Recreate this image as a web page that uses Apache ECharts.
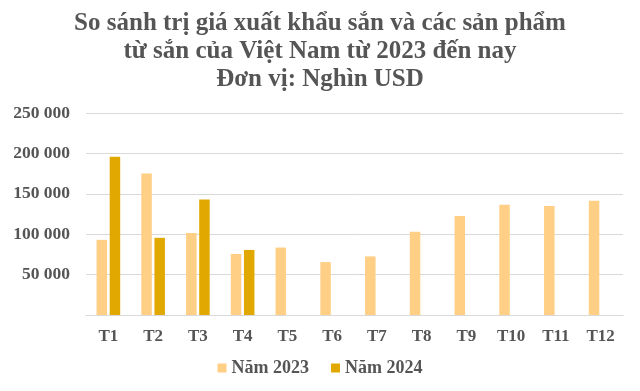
<!DOCTYPE html>
<html><head><meta charset="utf-8">
<script src="https://cdn.jsdelivr.net/npm/echarts@6/dist/echarts.min.js"></script>
<style>html,body{margin:0;padding:0;background:#fff}#c{width:640px;height:391px}</style>
</head><body><div id="c"></div>
<script>
const categories = ['T1','T2','T3','T4','T5','T6','T7','T8','T9','T10','T11','T12'];
const values2023 = [93000,175000,101500,75500,83500,65500,72500,103000,122500,136500,135000,141500];
const values2024 = [196000,95500,143000,80500,null,null,null,null,null,null,null,null];
const seriesNames = ['Năm 2023','Năm 2024'];
const titleText = 'So sánh trị giá xuất khẩu sắn và các sản phẩm\ntừ sắn của Việt Nam từ 2023 đến nay\nĐơn vị: Nghìn USD';
const font = '"Liberation Serif","Times New Roman",serif';
const chart = echarts.init(document.getElementById('c'));
chart.setOption({
  animation:false,
  title:{text:titleText,left:'center',top:5,textStyle:{fontFamily:font,fontWeight:'bold',fontSize:25,lineHeight:28,color:'#555555'}},
  legend:{data:seriesNames,bottom:9,left:'center',itemWidth:9,itemHeight:9,itemGap:22,icon:'rect',
    textStyle:{fontFamily:font,fontWeight:'bold',fontSize:18,color:'#555555'}},
  grid:{left:86,right:17,top:113,bottom:76},
  xAxis:{type:'category',data:categories,axisTick:{show:false},
    axisLine:{lineStyle:{color:'#d9d9d9'}},
    axisLabel:{fontFamily:font,fontWeight:'bold',fontSize:17,color:'#555555',margin:13}},
  yAxis:{type:'value',min:0,max:250000,interval:50000,
    axisLabel:{fontFamily:font,fontWeight:'bold',fontSize:17.5,color:'#555555',margin:16,
      formatter:v=>v===0?'':String(v).replace(/\B(?=(\d{3})+(?!\d))/g,' ')},
    splitLine:{lineStyle:{color:'#d9d9d9'}}},
  series:[
    {name:seriesNames[0],type:'bar',data:values2023,barWidth:10.5,barGap:'25%',itemStyle:{color:'#FFCF85'}},
    {name:seriesNames[1],type:'bar',data:values2024,barWidth:10.5,itemStyle:{color:'#E0A800'}}
  ]
});
</script></body></html>
